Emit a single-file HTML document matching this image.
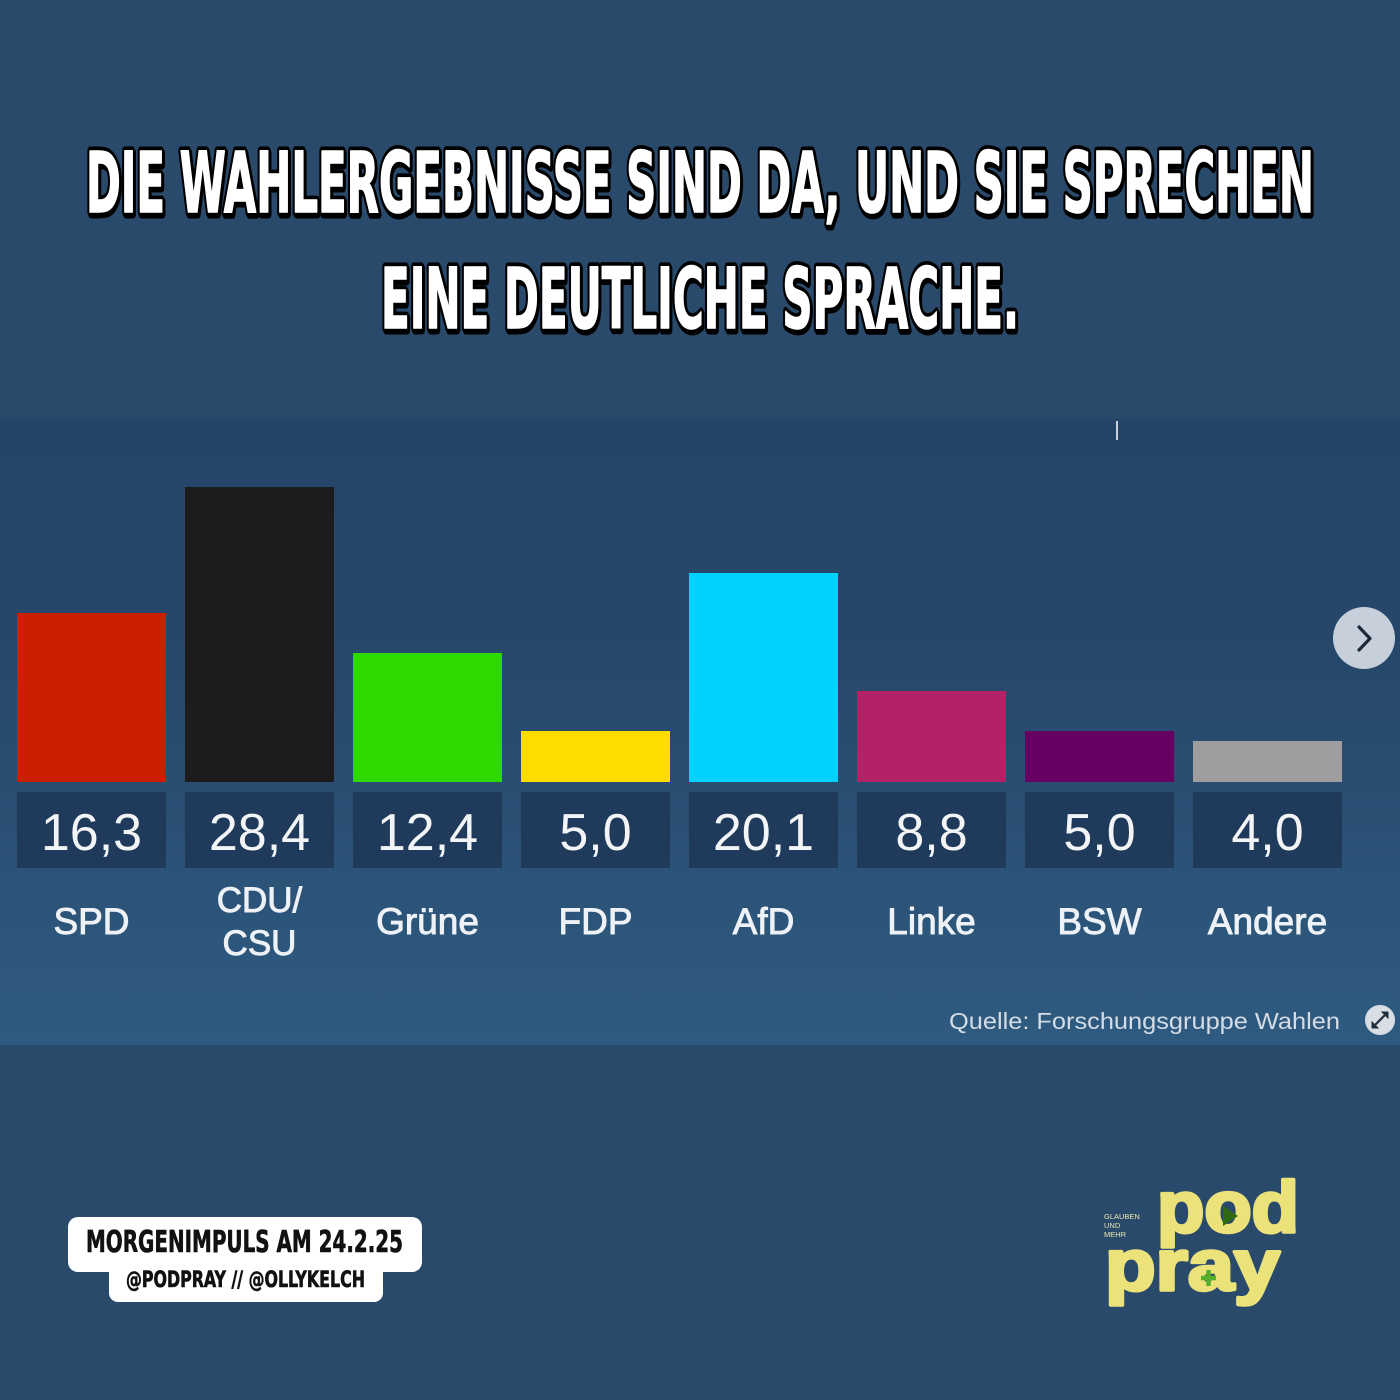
<!DOCTYPE html>
<html>
<head>
<meta charset="utf-8">
<style>
html,body{margin:0;padding:0;background:#2a4a6b;}
body{width:1400px;height:1400px;overflow:hidden;}
svg{display:block;}
</style>
</head>
<body>
<svg width="1400" height="1400" viewBox="0 0 1400 1400" xmlns="http://www.w3.org/2000/svg">
  <defs>
    <linearGradient id="panel" x1="0" y1="0" x2="0" y2="1">
      <stop offset="0" stop-color="#25446a"/>
      <stop offset="0.35" stop-color="#26476a"/>
      <stop offset="1" stop-color="#2f5b81"/>
    </linearGradient>
  </defs>
  <rect x="0" y="0" width="1400" height="1400" fill="#2a4a6b"/>

  <!-- Title -->
  <g font-family="'Liberation Sans Narrow','DejaVu Sans Condensed','Liberation Sans',sans-serif" font-weight="bold" font-size="84">
    <text x="87" y="214" textLength="1228" lengthAdjust="spacingAndGlyphs" fill="#000" stroke="#000" stroke-width="9" stroke-linejoin="round">DIE WAHLERGEBNISSE SIND DA, UND SIE SPRECHEN</text>
    <text x="86" y="212" textLength="1228" lengthAdjust="spacingAndGlyphs" fill="#000" stroke="#000" stroke-width="9" stroke-linejoin="round">DIE WAHLERGEBNISSE SIND DA, UND SIE SPRECHEN</text>
    <text x="86" y="212" textLength="1228" lengthAdjust="spacingAndGlyphs" fill="#fff" stroke="#fff" stroke-width="1.6" stroke-linejoin="round">DIE WAHLERGEBNISSE SIND DA, UND SIE SPRECHEN</text>
    <text x="382" y="330" textLength="638" lengthAdjust="spacingAndGlyphs" fill="#000" stroke="#000" stroke-width="9" stroke-linejoin="round">EINE DEUTLICHE SPRACHE.</text>
    <text x="381" y="328" textLength="638" lengthAdjust="spacingAndGlyphs" fill="#000" stroke="#000" stroke-width="9" stroke-linejoin="round">EINE DEUTLICHE SPRACHE.</text>
    <text x="381" y="328" textLength="638" lengthAdjust="spacingAndGlyphs" fill="#fff" stroke="#fff" stroke-width="1.6" stroke-linejoin="round">EINE DEUTLICHE SPRACHE.</text>
  </g>

  <!-- Chart panel -->
  <rect x="0" y="419" width="1400" height="626" fill="url(#panel)"/>
  <rect x="1116" y="421" width="2" height="19" fill="#c8d0da"/>

  <!-- Bars -->
  <rect x="17" y="613" width="149" height="169" fill="#cb1f00"/>
  <rect x="185" y="487" width="149" height="295" fill="#1c1c1c"/>
  <rect x="353" y="653" width="149" height="129" fill="#2ed900"/>
  <rect x="521" y="731" width="149" height="51" fill="#ffdc00"/>
  <rect x="689" y="573" width="149" height="209" fill="#00d1ff"/>
  <rect x="857" y="691" width="149" height="91" fill="#b32166"/>
  <rect x="1025" y="731" width="149" height="51" fill="#660062"/>
  <rect x="1193" y="741" width="149" height="41" fill="#9e9e9e"/>

  <!-- Value boxes -->
  <g fill="#1f3a5b">
    <rect x="17" y="792" width="149" height="76"/>
    <rect x="185" y="792" width="149" height="76"/>
    <rect x="353" y="792" width="149" height="76"/>
    <rect x="521" y="792" width="149" height="76"/>
    <rect x="689" y="792" width="149" height="76"/>
    <rect x="857" y="792" width="149" height="76"/>
    <rect x="1025" y="792" width="149" height="76"/>
    <rect x="1193" y="792" width="149" height="76"/>
  </g>
  <g font-family="'Liberation Sans',sans-serif" font-size="52" fill="#f2f4f6" text-anchor="middle">
    <text x="91.5" y="850">16,3</text>
    <text x="259.5" y="850">28,4</text>
    <text x="427.5" y="850">12,4</text>
    <text x="595.5" y="850">5,0</text>
    <text x="763.5" y="850">20,1</text>
    <text x="931.5" y="850">8,8</text>
    <text x="1099.5" y="850">5,0</text>
    <text x="1267.5" y="850">4,0</text>
  </g>

  <!-- Party labels -->
  <g font-family="'Liberation Sans',sans-serif" font-size="37" fill="#eef2f6" stroke="#eef2f6" stroke-width="0.9" text-anchor="middle">
    <text x="91.5" y="934">SPD</text>
    <text x="259.5" y="912" font-size="35">CDU/</text>
    <text x="259.5" y="955" font-size="35">CSU</text>
    <text x="427.5" y="934">Grüne</text>
    <text x="595.5" y="934">FDP</text>
    <text x="763.5" y="934">AfD</text>
    <text x="931.5" y="934">Linke</text>
    <text x="1099.5" y="934">BSW</text>
    <text x="1267.5" y="934">Andere</text>
  </g>

  <!-- Next arrow button -->
  <circle cx="1364" cy="638" r="31" fill="#c6cfda"/>
  <polyline points="1359,627 1370,638.5 1359,650" fill="none" stroke="#1b2838" stroke-width="3.2" stroke-linecap="round" stroke-linejoin="round"/>

  <!-- Source -->
  <text x="949" y="1029" font-family="'Liberation Sans',sans-serif" font-size="23" fill="#d4dce5" textLength="391" lengthAdjust="spacingAndGlyphs">Quelle: Forschungsgruppe Wahlen</text>
  <circle cx="1380" cy="1020" r="15" fill="#d9dee5"/>
  <g stroke="#1f2d3c" stroke-width="2.2" stroke-linecap="round" fill="#1f2d3c">
    <line x1="1374" y1="1026" x2="1386" y2="1014"/>
    <polygon points="1372,1028 1372,1022 1378,1028" stroke-width="1"/>
    <polygon points="1388,1012 1382,1012 1388,1018" stroke-width="1"/>
  </g>

  <!-- Bottom-left badge -->
  <rect x="68" y="1217" width="354" height="55" rx="10" fill="#fff"/>
  <rect x="109" y="1258" width="274" height="44" rx="9" fill="#fff"/>
  <g font-family="'Liberation Sans Narrow','DejaVu Sans Condensed','Liberation Sans',sans-serif" font-weight="bold" fill="#111" stroke="#111" stroke-width="0.6">
    <text x="86" y="1252" font-size="30" textLength="317" lengthAdjust="spacingAndGlyphs">MORGENIMPULS AM 24.2.25</text>
    <text x="126" y="1287" font-size="22" textLength="239" lengthAdjust="spacingAndGlyphs">@PODPRAY // @OLLYKELCH</text>
  </g>

  <!-- Logo -->
  <g font-family="'Liberation Sans',sans-serif" font-size="7.5" fill="#e6e6b0">
    <text x="1104" y="1219">GLAUBEN</text>
    <text x="1104" y="1228">UND</text>
    <text x="1104" y="1237">MEHR</text>
  </g>
  <g font-family="'Liberation Sans',sans-serif" font-weight="bold" font-size="72" fill="#ece27a" stroke="#ece27a" stroke-width="3.5" stroke-linejoin="round">
    <text x="1157" y="1232" textLength="142" lengthAdjust="spacingAndGlyphs">pod</text>
    <text x="1105" y="1290" textLength="175" lengthAdjust="spacingAndGlyphs">pray</text>
  </g>
  <polygon points="1223,1206 1223,1226 1238,1216" fill="#2e6a12"/>
  <g stroke="#56b02c" stroke-width="4.5" stroke-linecap="butt">
    <line x1="1201" y1="1278" x2="1216" y2="1278"/>
    <line x1="1208.5" y1="1270" x2="1208.5" y2="1286"/>
  </g>
</svg>
</body>
</html>
